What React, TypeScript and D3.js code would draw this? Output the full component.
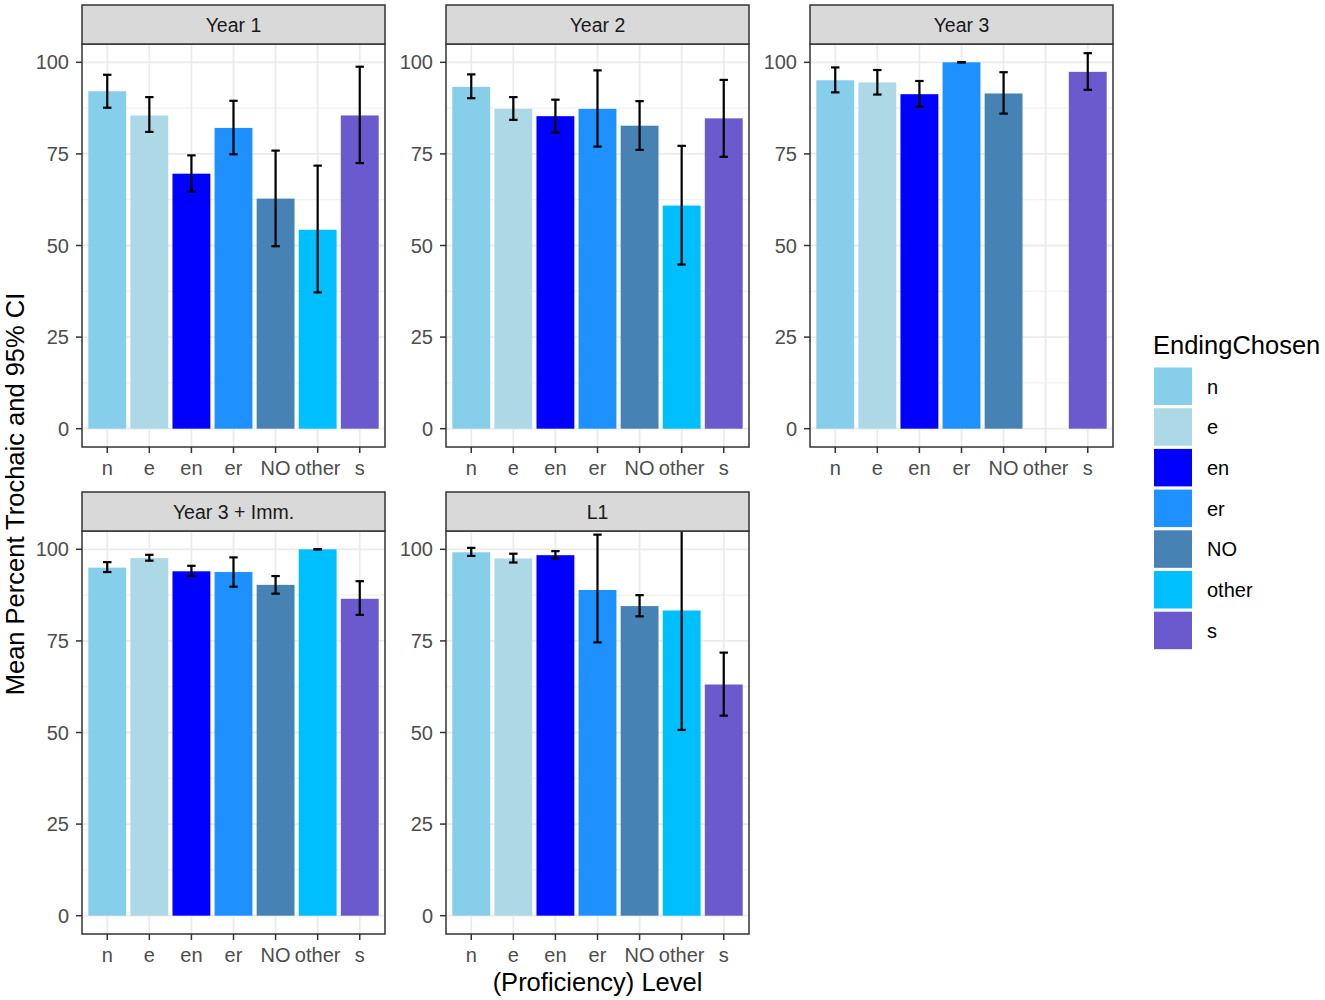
import React from 'react';
import * as d3 from 'd3';

const endings = ['n', 'e', 'en', 'er', 'NO', 'other', 's'];
const levels = ['Year 1', 'Year 2', 'Year 3', 'Year 3 + Imm.', 'L1'];
const fills = ['#87CEEB', '#ADD8E6', '#0000FF', '#1E90FF', '#4682B4', '#00BFFF', '#6A5ACD'];
const yTicks = [0, 25, 50, 75, 100];
const yMinor = [12.5, 37.5, 62.5, 87.5];

// mean percent trochaic, per level, in the order of `endings` (null = no data)
const meanYear1 = [92.1, 85.5, 69.6, 82.1, 62.8, 54.3, 85.5];
const lowYear1 = [87.6, 81.0, 64.7, 74.9, 49.8, 37.2, 72.5];
const highYear1 = [96.6, 90.5, 74.6, 89.5, 75.9, 71.8, 98.8];

const meanYear2 = [93.3, 87.3, 85.3, 87.3, 82.7, 60.9, 84.7];
const lowYear2 = [90.2, 84.3, 80.8, 77.0, 76.1, 44.8, 74.2];
const highYear2 = [96.7, 90.5, 89.8, 97.8, 89.4, 77.2, 95.2];

const meanYear3 = [95.1, 94.5, 91.3, 100, 91.5, null, 97.4];
const lowYear3 = [91.8, 91.2, 87.9, 100, 86.0, null, 92.5];
const highYear3 = [98.6, 97.9, 94.9, 100, 97.3, null, 102.5];

const meanImm = [95.0, 97.6, 94.0, 93.8, 90.3, 100, 86.5];
const lowImm = [93.8, 96.9, 92.7, 89.8, 87.9, 100, 82.1];
const highImm = [96.5, 98.5, 95.5, 97.8, 92.7, 100, 91.3];

const meanL1 = [99.2, 97.5, 98.4, 88.9, 84.5, 83.3, 63.1];
const lowL1 = [98.2, 96.4, 97.5, 74.6, 81.7, 50.7, 54.6];
const highL1 = [100.4, 98.8, 99.5, 104.0, 87.5, 116.0, 71.8];

const means = [meanYear1, meanYear2, meanYear3, meanImm, meanL1];
const lows = [lowYear1, lowYear2, lowYear3, lowImm, lowL1];
const highs = [highYear1, highYear2, highYear3, highImm, highL1];

const FONT = '"Liberation Sans", Arial, Helvetica, sans-serif';
const colLeft = [82, 446, 810];
const rowTop = [5, 492];
const PW = 303;
const STRIP = 39;
const PH = 403;

function Panel({ idx }: { idx: number }) {
  const col = idx % 3;
  const row = Math.floor(idx / 3);
  const left = colLeft[col];
  const stripTop = rowTop[row];
  const top = stripTop + STRIP;
  const bottom = top + PH;

  const x = d3.scaleBand<string>()
    .domain(endings)
    .range([left, left + PW])
    .paddingInner(0.1)
    .paddingOuter(0.15);
  const step = x.step();
  const y = d3.scaleLinear().domain([-5, 105]).range([bottom, top]);
  const clipId = `clip-${idx}`;

  return (
    <g>
      <defs>
        <clipPath id={clipId}>
          <rect x={left} y={top} width={PW} height={PH} />
        </clipPath>
      </defs>
      <rect x={left} y={top} width={PW} height={PH} fill="#fff" />
      {yMinor.map(t => (
        <line key={'mi' + t} x1={left} x2={left + PW} y1={y(t)} y2={y(t)} stroke="#EBEBEB" strokeWidth={0.9} />
      ))}
      {yTicks.map(t => (
        <line key={'ma' + t} x1={left} x2={left + PW} y1={y(t)} y2={y(t)} stroke="#EBEBEB" strokeWidth={1.8} />
      ))}
      {endings.map(e => {
        const cx = x(e)! + x.bandwidth() / 2;
        return <line key={'v' + e} x1={cx} x2={cx} y1={top} y2={bottom} stroke="#EBEBEB" strokeWidth={1.8} />;
      })}
      <g clipPath={`url(#${clipId})`}>
        {endings.map((e, i) => {
          const v = means[idx][i];
          if (v == null) return null;
          return (
            <rect key={'b' + e} x={x(e)} y={y(v)} width={x.bandwidth()} height={y(0) - y(v)} fill={fills[i]} />
          );
        })}
        {endings.map((e, i) => {
          const lo = lows[idx][i];
          const hi = highs[idx][i];
          if (lo == null || hi == null) return null;
          const cx = x(e)! + x.bandwidth() / 2;
          const hw = step * 0.1;
          return (
            <g key={'err' + e} stroke="#000" strokeWidth={2.2} fill="none">
              <line x1={cx} x2={cx} y1={y(hi)} y2={y(lo)} />
              <line x1={cx - hw} x2={cx + hw} y1={y(hi)} y2={y(hi)} />
              <line x1={cx - hw} x2={cx + hw} y1={y(lo)} y2={y(lo)} />
            </g>
          );
        })}
      </g>
      <rect x={left} y={top} width={PW} height={PH} fill="none" stroke="#333333" strokeWidth={1.5} />
      <rect x={left} y={stripTop} width={PW} height={STRIP} fill="#D9D9D9" stroke="#333333" strokeWidth={1.5} />
      <text x={left + PW / 2} y={stripTop + STRIP / 2 + 7} textAnchor="middle" fontSize={19.5} fill="#1A1A1A" fontFamily={FONT}>
        {levels[idx]}
      </text>
      {yTicks.map(t => (
        <g key={'yt' + t}>
          <line x1={left - 6} x2={left} y1={y(t)} y2={y(t)} stroke="#333333" strokeWidth={1.5} />
          <text x={left - 13} y={y(t) + 7} textAnchor="end" fontSize={20} fill="#4D4D4D" fontFamily={FONT}>{t}</text>
        </g>
      ))}
      {endings.map(e => {
        const cx = x(e)! + x.bandwidth() / 2;
        return (
          <g key={'xt' + e}>
            <line x1={cx} x2={cx} y1={bottom} y2={bottom + 6} stroke="#333333" strokeWidth={1.5} />
            <text x={cx} y={bottom + 27.5} textAnchor="middle" fontSize={20} fill="#4D4D4D" fontFamily={FONT}>{e}</text>
          </g>
        );
      })}
    </g>
  );
}

export default function App() {
  const keyStep = 40.7;
  return (
    <div style={{ position: 'absolute', left: 0, top: 0 }}>
      <svg width={1325} height={1000} style={{ display: 'block', background: '#fff' }}>
        <rect x={0} y={0} width={1325} height={1000} fill="#fff" />
        {levels.map((_, i) => <Panel key={i} idx={i} />)}
        <text transform="translate(24,494) rotate(-90)" textAnchor="middle" fontSize={25.5} fill="#000" fontFamily={FONT}>
          Mean Percent Trochaic and 95% CI
        </text>
        <text x={597.5} y={991} textAnchor="middle" fontSize={25.5} fill="#000" fontFamily={FONT}>
          (Proficiency) Level
        </text>
        <text x={1153} y={354} fontSize={25.5} fill="#000" fontFamily={FONT}>EndingChosen</text>
        {endings.map((e, i) => {
          const ky = 367.5 + i * keyStep;
          return (
            <g key={'lg' + e}>
              <rect x={1154} y={ky} width={38} height={37.5} fill={fills[i]} />
              <text x={1207} y={ky + 26} fontSize={20} fill="#000" fontFamily={FONT}>{e}</text>
            </g>
          );
        })}
      </svg>
    </div>
  );
}
